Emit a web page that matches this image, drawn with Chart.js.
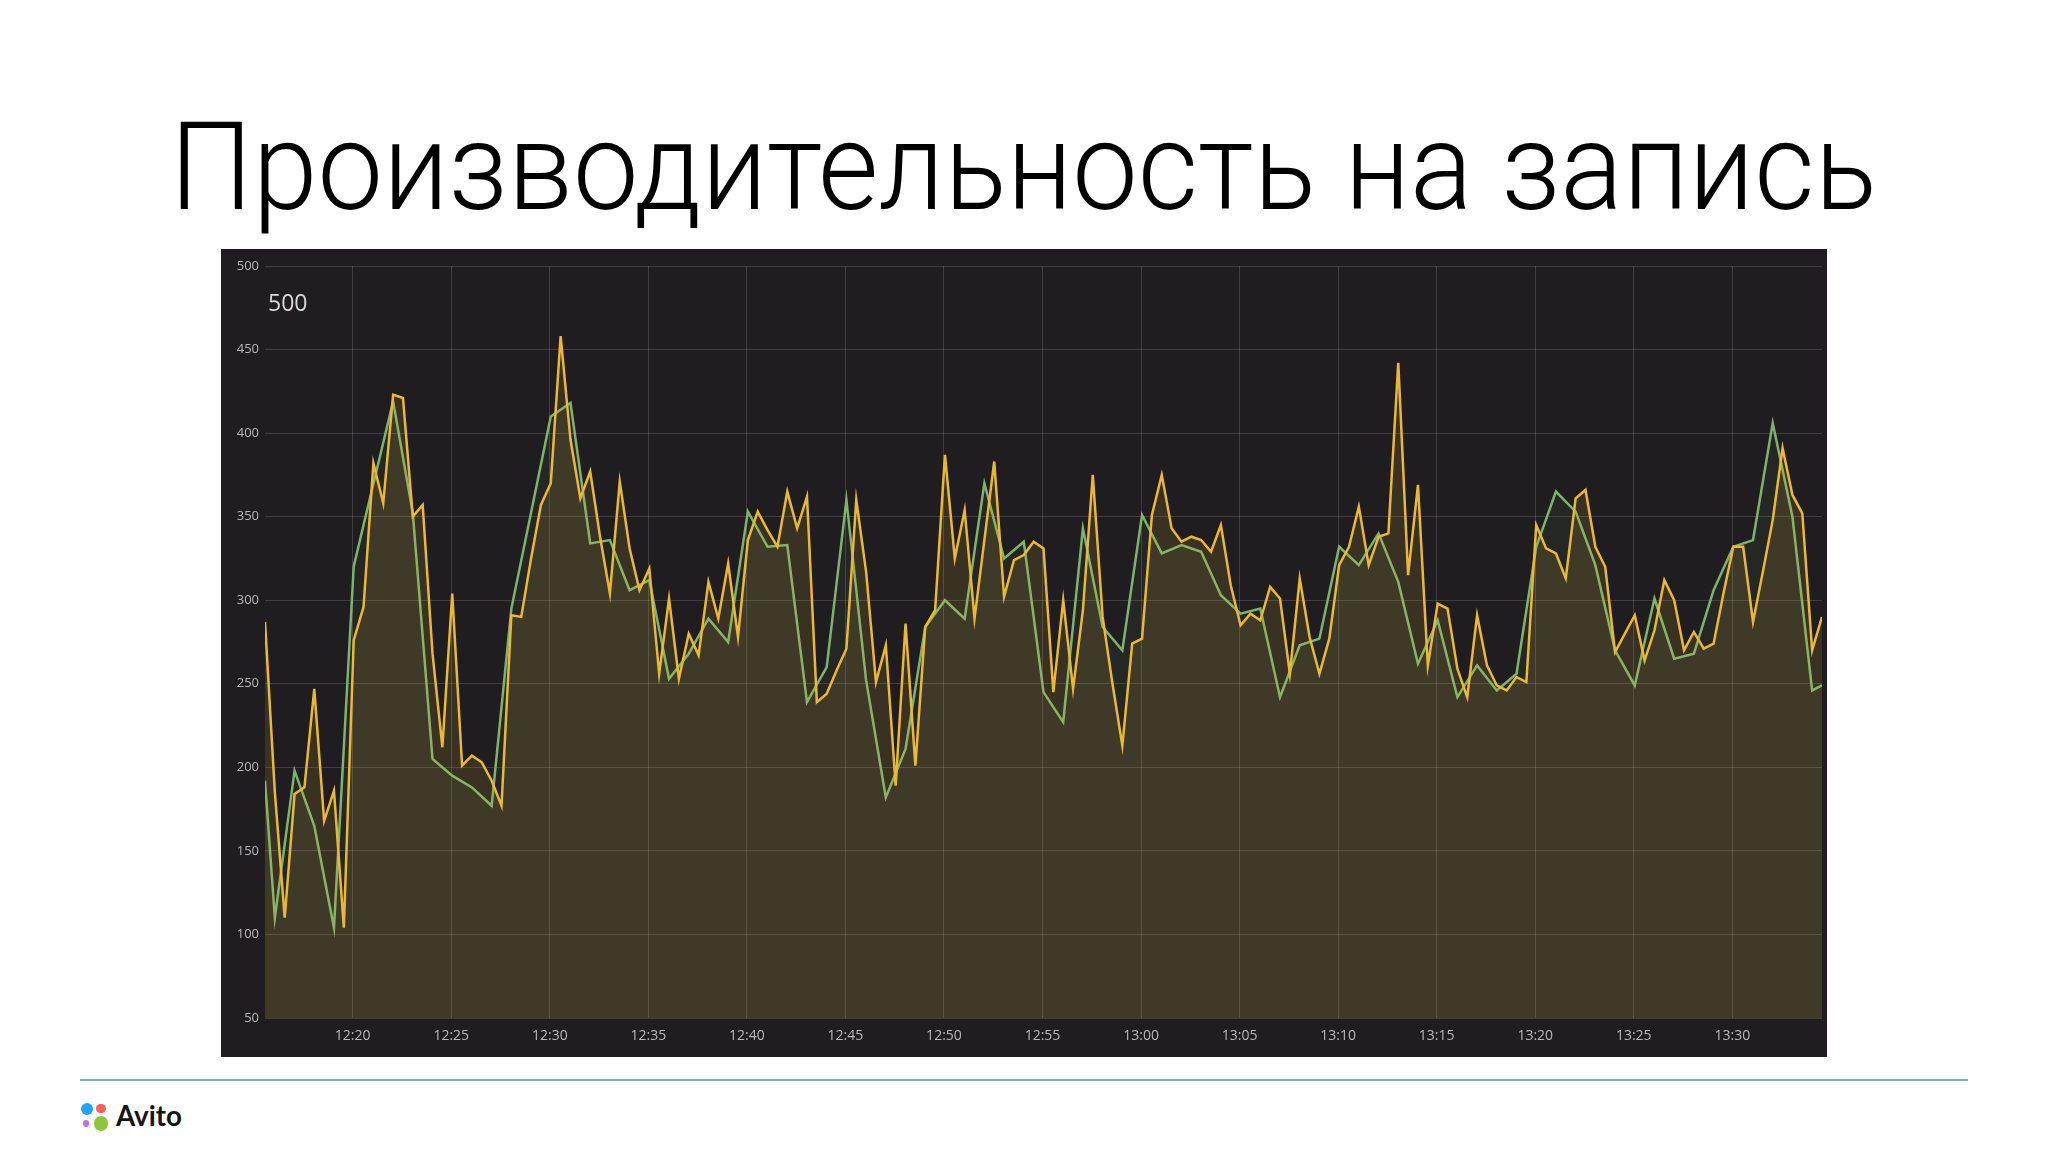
<!DOCTYPE html>
<html lang="ru">
<head>
<meta charset="utf-8">
<title>Производительность на запись</title>
<script src="https://cdn.jsdelivr.net/npm/chart.js@4.4.1/dist/chart.umd.min.js"></script>
<style>
  html, body { margin: 0; padding: 0; background: #fff; }
  body { width: 2048px; height: 1152px; position: relative; overflow: hidden; font-family: 'Open Sans', sans-serif; }
  .slide-title { position: absolute; left: 170px; top: 0; margin: 0; font-family: Roboto, 'Noto Sans', sans-serif; font-weight: 300; font-size: 123px; line-height: 1; color: #000; white-space: nowrap; transform-origin: 0 0; }
  .panel { position: absolute; left: 221px; top: 249px; width: 1606px; height: 808px; background: #1f1d20; }
  .panel canvas { display: block; }
  .panel-value { position: absolute; left: 47px; top: 0; font-size: 23px; line-height: 1; color: #d8d9da; white-space: nowrap; }
  .rule { position: absolute; left: 80px; top: 1079px; width: 1888px; height: 2px; background: #6ab2d5; }
  .dot { position: absolute; border-radius: 50%; }
  .logo-text { position: absolute; left: 116px; top: 0; font-family: Lato, 'Open Sans', sans-serif; font-weight: 700; font-size: 28px; line-height: 1; color: #151515; white-space: nowrap; transform-origin: 0 0; }
</style>
</head>
<body>
<h1 class="slide-title" id="title"><span>Производительность на запись</span></h1>
<div class="panel">
  <canvas id="writeChart"></canvas>
  <div class="panel-value" id="panelValue"></div>
</div>
<div class="rule"></div>
<div class="dot" style="left:80.7px;top:1103.3px;width:12px;height:12px;background:#1ea5f5"></div>
<div class="dot" style="left:96.3px;top:1104px;width:9.4px;height:9.4px;background:#ff5f5f"></div>
<div class="dot" style="left:82.7px;top:1120px;width:6.6px;height:6.6px;background:#c070ee"></div>
<div class="dot" style="left:93.7px;top:1116px;width:14.6px;height:14.6px;background:#8cc63f"></div>
<div class="logo-text" id="logoText"><span>Avito</span></div>

<script>
// samples every 30 s from 12:15:33
const sampleStart = '12:15:33';
const sampleStep = 30;

const yellowSeries = [
  287, 185, 110, 184, 188, 247, 168, 186, 104, 276,
  296, 382, 358, 423, 421, 350, 357, 268, 212, 304,
  201, 207, 203, 192, 177, 291, 290, 325, 357, 370,
  458, 396, 361, 377, 338, 304, 371, 331, 306, 319,
  256, 301, 253, 280, 267, 311, 289, 322, 278, 336,
  353, 342, 332, 365, 343, 362, 239, 244, 258, 271,
  360, 317, 251, 273, 189, 286, 201, 284, 294, 387,
  325, 354, 289, 336, 383, 302, 324, 327, 335, 331,
  245, 300, 247, 294, 375, 290, 250, 213, 274, 277,
  351, 375, 343, 335, 338, 336, 329, 345, 309, 285,
  292, 288, 308, 301, 256, 313, 278, 256, 277, 321,
  332, 356, 321, 338, 340, 442, 315, 369, 261, 298,
  295, 259, 242, 291, 261, 249, 246, 254, 251, 345,
  331, 328, 313, 361, 366, 332, 320, 269, 280, 291,
  264, 282, 312, 300, 270, 281, 271, 274, 304, 332,
  332, 287, 317, 348, 391, 363, 352, 270, 290
];

const greenSeries = [
  192, 110, null, 198, null, 165, null, 104, null, 320,
  345, null, null, 419, null, 352, null, 205, null, 195,
  null, 188, null, 177, null, 295, null, null, null, 410,
  null, 418, null, 334, null, 336, null, 306, null, 312,
  null, 253, null, 268, null, 289, null, 275, null, 353,
  null, 332, null, 333, null, 239, null, 260, null, 360,
  null, 252, null, 182, null, 211, null, 284, null, 300,
  null, 289, null, 370, null, 325, null, 335, null, 245,
  null, 227, null, 343, null, 284, null, 270, null, 351,
  null, 328, null, 333, null, 329, null, 303, null, 292,
  null, 295, null, 242, null, 273, null, 277, null, 332,
  null, 321, null, 340, null, 311, null, 262, null, 288,
  null, 242, null, 261, null, 246, null, 256, null, 332,
  null, 365, null, 353, null, 321, null, 270, null, 249,
  null, 301, null, 265, null, 268, null, 306, null, 332,
  null, 336, null, 406, null, 350, null, 246, 249
];

const xTickLabels = ['12:20', '12:25', '12:30', '12:35', '12:40', '12:45', '12:50', '12:55',
  '13:00', '13:05', '13:10', '13:15', '13:20', '13:25', '13:30'];
const yTickValues = [50, 100, 150, 200, 250, 300, 350, 400, 450, 500];
const panelValue = '500';

const toSec = s => s.split(':').reduce((acc, p) => acc * 60 + Number(p), 0) * (s.split(':').length === 2 ? 60 : 1);
const fmtTime = sec => {
  const h = Math.floor(sec / 3600), m = Math.round((sec % 3600) / 60);
  return `${h}:${String(m).padStart(2, '0')}`;
};
const t0 = toSec(sampleStart);
const sampleTimes = yellowSeries.map((_, i) => t0 + i * sampleStep);
const xTicks = xTickLabels.map(toSec);

// put text so its baseline lands on a given y, optionally stretched to a width
function placeText(el, baseline, width) {
  const probe = document.createElement('span');
  probe.style.cssText = 'display:inline-block;width:0;height:0';
  el.appendChild(probe);
  const offset = probe.getBoundingClientRect().bottom - el.getBoundingClientRect().top;
  el.removeChild(probe);
  el.style.top = (baseline - offset) + 'px';
  if (width) {
    const w = el.firstElementChild.getBoundingClientRect().width;
    el.style.transform = `scaleX(${width / w})`;
  }
}

Chart.defaults.font.family = "'Open Sans', sans-serif";
const gridColor = 'rgba(255,255,255,0.15)';
const tickColor = '#b8b8b8';

new Chart(document.getElementById('writeChart'), {
  type: 'line',
  data: {
    datasets: [
      {
        label: 'yellow',
        data: yellowSeries.map((v, i) => ({ x: sampleTimes[i], y: v })),
        borderColor: '#eab839',
        backgroundColor: 'rgba(234,184,57,0.13)',
        borderWidth: 2.5,
        fill: 'start',
      },
      {
        label: 'green',
        data: greenSeries.map((v, i) => ({ x: sampleTimes[i], y: v })),
        borderColor: '#7eb26d',
        backgroundColor: 'rgba(126,178,109,0.07)',
        borderWidth: 2.5,
        fill: 'start',
        spanGaps: true,
      },
    ],
  },
  options: {
    responsive: true,
    maintainAspectRatio: false,
    animation: false,
    layout: { padding: { top: 17, right: 5, left: 0, bottom: 0 } },
    elements: { point: { radius: 0 }, line: { tension: 0 } },
    plugins: { legend: { display: false }, tooltip: { enabled: false } },
    scales: {
      x: {
        type: 'linear',
        min: t0,
        max: sampleTimes[sampleTimes.length - 1],
        afterBuildTicks: s => { s.ticks = xTicks.map(v => ({ value: v })); },
        afterFit: s => { s.height = 39; },
        grid: { color: gridColor, drawTicks: false },
        border: { display: false },
        ticks: { color: tickColor, font: { size: 14 }, padding: 10, maxRotation: 0, callback: v => fmtTime(v) },
      },
      y: {
        min: 50,
        max: 500,
        afterBuildTicks: s => { s.ticks = yTickValues.map(v => ({ value: v })); },
        afterFit: s => { s.width = 44; },
        grid: { color: gridColor, drawTicks: false },
        border: { display: false },
        ticks: { color: tickColor, font: { size: 13 }, padding: 6 },
      },
    },
  },
});

const pv = document.getElementById('panelValue');
pv.innerHTML = `<span>${panelValue}</span>`;
placeText(pv, 62);
placeText(document.getElementById('title'), 209, 1707);
placeText(document.getElementById('logoText'), 1126, 66);
</script>
</body>
</html>
